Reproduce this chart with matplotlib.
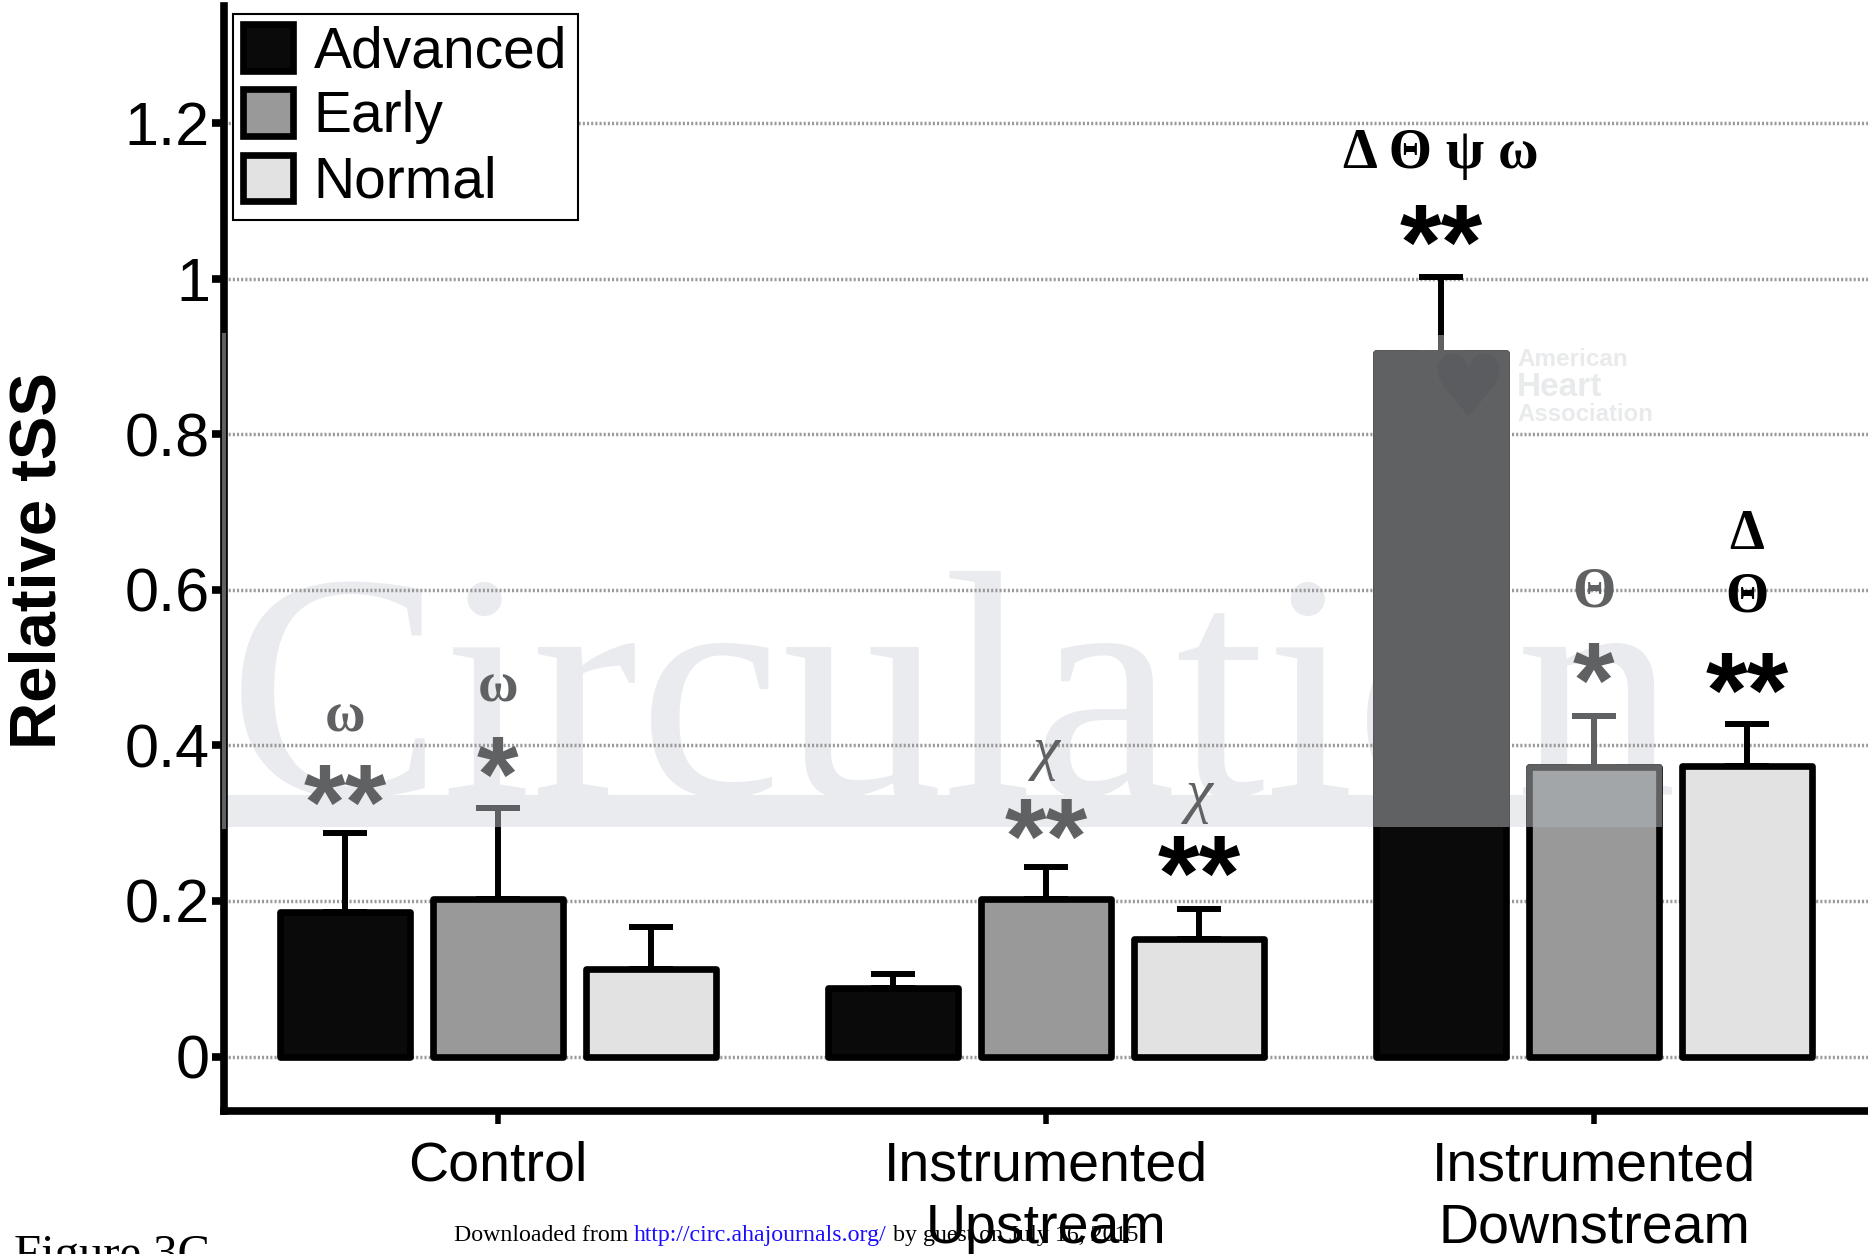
import numpy as np
import matplotlib.pyplot as plt
from matplotlib.patches import Rectangle

# data
groups = ['Control', 'Instrumented\nUpstream', 'Instrumented\nDownstream']
series = ['Advanced', 'Early', 'Normal']
advanced = [0.186, 0.088, 0.904]
early = [0.202, 0.203, 0.372]
normal = [0.112, 0.151, 0.374]
advanced_err = [0.101, 0.018, 0.098]
early_err = [0.118, 0.041, 0.066]
normal_err = [0.054, 0.039, 0.054]

# significance marks: (group, series, text, y)
stars = [(0, 0, '**', 0.348), (0, 1, '*', 0.384), (1, 1, '**', 0.304),
         (1, 2, '**', 0.256), (2, 0, '**', 1.067), (2, 1, '*', 0.504),
         (2, 2, '**', 0.491)]
greek = [(0, 0, 'ω', 0.436), (0, 1, 'ω', 0.475), (1, 1, 'χ', 0.39),
         (1, 2, 'χ', 0.335), (2, 0, 'Δ Θ ψ ω', 1.16), (2, 1, 'Θ', 0.597),
         (2, 2, 'Δ', 0.671), (2, 2, 'Θ', 0.59)]

fills = ['#0a0a0a', '#999999', '#e2e2e2']
washed = ['#5f6163', '#a3a6a8', '#e2e2e2']
wash_edge = '#5f6163'

plt.rcParams['font.family'] = 'Liberation Sans'

fig = plt.figure(figsize=(18.68, 12.54), dpi=100)
ax = fig.add_axes([0.1199, 0.114, 0.8801, 0.881])
ax.set_xlim(-0.5, 2.5)
ax.set_ylim(-0.07, 1.35)

# journal watermark area (lightens dark marks)
wash = Rectangle((0, 0.257), 0.875, 0.445, transform=ax.transAxes)
ax.add_patch(Rectangle((0, 0.257), 0.875, 0.029, transform=ax.transAxes,
                       facecolor='#e9ebee', edgecolor='none', zorder=0.3))
ax.text(0.002, 0.286, 'Circulation', transform=ax.transAxes, family='Liberation Serif',
        fontsize=232, color='#e9ebee', ha='left', va='baseline', zorder=0.3)

x = np.arange(len(groups))
w = 0.237
off = 0.279
vals = [advanced, early, normal]
errs = [advanced_err, early_err, normal_err]
for i in range(3):
    pos = x + (i - 1) * off
    ax.bar(pos, vals[i], w, color=fills[i], edgecolor='black', linewidth=4.8,
           joinstyle='round', zorder=2, label=series[i])
    ax.errorbar(pos, vals[i], yerr=[np.zeros(3), errs[i]], fmt='none', ecolor='black',
                elinewidth=4.3, capsize=15.5, capthick=4.3, zorder=1.8)
    # washed copies inside the watermark area
    bars2 = ax.bar(pos, vals[i], w, color=washed[i], edgecolor=wash_edge, linewidth=4.8,
                   joinstyle='round', zorder=3)
    for b in bars2:
        b.set_clip_path(wash)
    eb2 = ax.errorbar(pos, vals[i], yerr=[np.zeros(3), errs[i]], fmt='none', ecolor=wash_edge,
                      elinewidth=4.3, capsize=15.5, capthick=4.3, zorder=2.9)
    for c in eb2.lines[1]:
        c.set_clip_path(wash)
    for c in eb2.lines[2]:
        c.set_clip_path(wash)


def mark_color(g, s, y):
    ax_x = (g + (s - 1) * off + 0.5) / 3
    ax_y = (y + 0.07) / 1.42
    if ax_x <= 0.875 and 0.257 <= ax_y <= 0.702:
        return wash_edge
    return 'black'


star_fs = 77
for g, s, t, y in stars:
    ax.annotate(t, (g + (s - 1) * off, y), xytext=(0, -0.23 * star_fs),
                textcoords='offset points', ha='center', va='center', fontsize=star_fs,
                fontweight='bold', color=mark_color(g, s, y), zorder=4)
for g, s, t, y in greek:
    if t == 'χ':
        style, weight, fs = 'italic', 'normal', 44
    else:
        style, weight, fs = 'normal', 'bold', 40
    ax.text(g + (s - 1) * off, y, t, ha='center', va='center', fontsize=fs,
            family='Liberation Serif', fontweight=weight, style=style,
            color=mark_color(g, s, y), zorder=4)

# axes styling
ax.set_axisbelow(True)
ax.yaxis.grid(True, color='#9a9a9a', linestyle=(0, (0.6, 0.6)), linewidth=2.5)
ax.set_yticks([0, 0.2, 0.4, 0.6, 0.8, 1, 1.2])
ax.set_yticklabels(['0', '0.2', '0.4', '0.6', '0.8', '1', '1.2'])
ax.set_xticks(x)
ax.set_xticklabels(groups, linespacing=1.26)
ax.tick_params(axis='y', labelsize=44, length=9, width=5.5, pad=1)
ax.tick_params(axis='x', labelsize=40, length=9, width=4, pad=12)
for side in ['top', 'right']:
    ax.spines[side].set_visible(False)
ax.spines['left'].set_linewidth(5.5)
ax.spines['bottom'].set_linewidth(5.5)
ax.plot([0, 0], [0.257, 0.702], transform=ax.transAxes, color=wash_edge, lw=3,
        clip_on=False, zorder=5)

fig.text(39 / 1868, 0.553, 'Relative tSS', rotation=90, ha='center', va='center',
         fontsize=47, fontweight='bold')

leg = ax.legend(loc='upper left', bbox_to_anchor=(233 / 1868, 1 - 14 / 1254),
                bbox_transform=fig.transFigure, borderaxespad=0, fontsize=41,
                handlelength=0.88, handleheight=0.88, handletextpad=0.36,
                labelspacing=0.18, borderpad=0.18, fancybox=False, framealpha=1,
                edgecolor='black')
leg.get_frame().set_linewidth(1.5)
leg.set_zorder(6)

# watermark logo
fig.text(1468 / 1868, 1 - 392 / 1254, '♥', family='DejaVu Sans', fontsize=62,
         color='#5a5c5f', ha='center', va='center', zorder=5)
for t, yy, fs in [('American', 360, 17.5), ('Heart', 388, 24), ('Association', 414, 17.3)]:
    fig.text(1517 / 1868, 1 - yy / 1254, t, fontsize=fs, fontweight='bold',
             color='#e8eaec', ha='left', va='center')

# page footer
fig.text(14 / 1868, -0.011, 'Figure 3C', family='Liberation Serif', fontsize=35,
         ha='left', va='baseline')
t1 = fig.text(454 / 1868, 13 / 1254, 'Downloaded from ', family='Liberation Serif',
              fontsize=17.2, ha='left', va='baseline')
t2 = ax.annotate('http://circ.ahajournals.org/', xy=(1, 0), xycoords=t1, va='bottom',
                 ha='left', family='Liberation Serif', fontsize=17.2, color='#1a0dff')
ax.annotate(' by guest on July 16, 2015', xy=(1, 0), xycoords=t2, va='bottom',
            ha='left', family='Liberation Serif', fontsize=17.2, color='black')

fig.savefig('out.png', dpi=100)
